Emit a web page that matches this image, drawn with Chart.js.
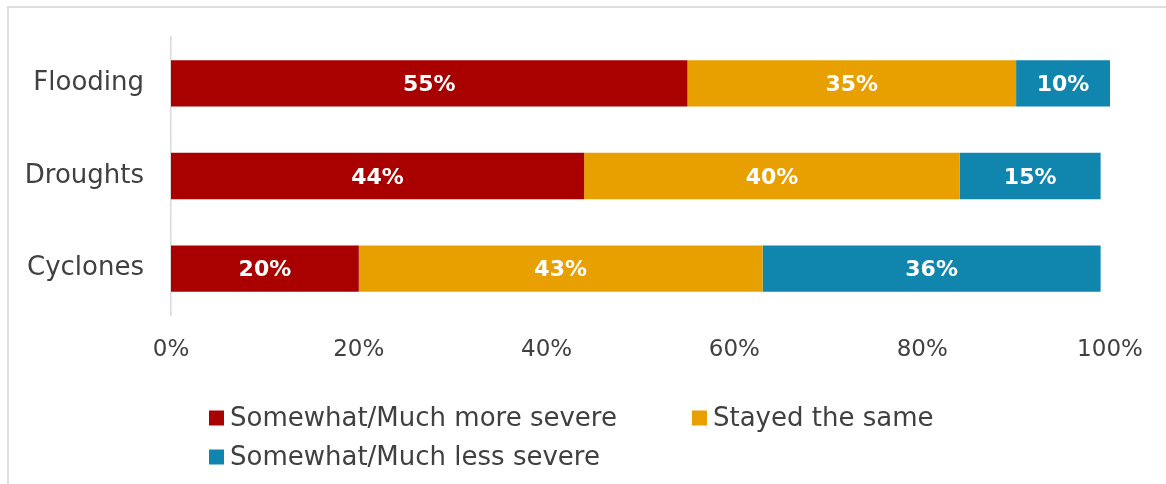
<!DOCTYPE html>
<html>
<head>
<meta charset="utf-8">
<script src="https://cdn.jsdelivr.net/npm/chart.js@4/dist/chart.umd.min.js"></script>
<style>
  html, body { margin: 0; padding: 0; background: #fff; }
  #wrap { position: relative; width: 1166px; height: 484px; overflow: hidden; }
  #frame { position: absolute; left: 7px; top: 6px; width: 1200px; height: 600px;
           border-top: 2px solid #dedede; border-left: 2px solid #dedede; }
  canvas { position: absolute; left: 0; top: 0; }
</style>
</head>
<body>
<div id="wrap">
  <div id="frame"></div>
  <canvas id="c" width="1166" height="484"></canvas>
</div>
<script>
// Perceived change in severity of natural hazards (share of respondents, %)
const categories = ['Flooding', 'Droughts', 'Cyclones'];
const moreSevere = [55, 44, 20];
const sameSeverity = [35, 40, 43];
const lessSevere = [10, 15, 36];
const seriesNames = ['Somewhat/Much more severe', 'Stayed the same', 'Somewhat/Much less severe'];
const seriesColors = ['#A90000', '#E89F00', '#1086AE'];
const xTickValues = [0, 20, 40, 60, 80, 100];

const FONT = '"DejaVu Sans", sans-serif';
const TEXT = '#404040';

// White value labels centred inside each bar segment
const segmentLabels = {
  id: 'segmentLabels',
  afterDatasetsDraw(chart) {
    const ctx = chart.ctx;
    ctx.save();
    ctx.font = 'bold 22px ' + FONT;
    ctx.fillStyle = '#ffffff';
    ctx.textAlign = 'center';
    ctx.textBaseline = 'middle';
    chart.data.datasets.forEach((ds, i) => {
      chart.getDatasetMeta(i).data.forEach((bar, j) => {
        const p = bar.getProps(['x', 'base', 'y'], true);
        ctx.fillText(ds.data[j] + '%', (p.x + p.base) / 2, p.y + 2);
      });
    });
    ctx.restore();
  }
};

// Legend rows under the plot, left-aligned, wrapping when a row gets too wide
const wrappedLegend = {
  id: 'wrappedLegend',
  afterDraw(chart, args, opts) {
    const ctx = chart.ctx;
    ctx.save();
    ctx.font = opts.fontSize + 'px ' + FONT;
    ctx.textBaseline = 'middle';
    let x = opts.left, y = opts.top;
    chart.data.datasets.forEach((ds) => {
      const w = opts.box + opts.boxGap + ctx.measureText(ds.label).width;
      if (x > opts.left && x + w - opts.left > opts.maxWidth) {
        x = opts.left;
        y += opts.rowHeight;
      }
      ctx.fillStyle = ds.backgroundColor;
      ctx.fillRect(x, y - opts.box / 2, opts.box, opts.box);
      ctx.fillStyle = TEXT;
      ctx.textAlign = 'left';
      ctx.fillText(ds.label, x + opts.box + opts.boxGap, y + 1);
      x += w + opts.itemGap;
    });
    ctx.restore();
  }
};

const seriesValues = [moreSevere, sameSeverity, lessSevere];

new Chart(document.getElementById('c'), {
  type: 'bar',
  data: {
    labels: categories,
    datasets: seriesValues.map((vals, i) => ({
      label: seriesNames[i],
      data: vals,
      backgroundColor: seriesColors[i],
      borderWidth: 0,
      barPercentage: 0.5,
      categoryPercentage: 1.0
    }))
  },
  options: {
    indexAxis: 'y',
    responsive: false,
    animation: false,
    layout: { padding: { left: 0, right: 56, top: 37, bottom: 109 } },
    plugins: {
      legend: { display: false },
      tooltip: { enabled: false },
      wrappedLegend: {
        left: 209, top: 418, rowHeight: 39, box: 15, boxGap: 6,
        itemGap: 75, maxWidth: 760, fontSize: 26
      }
    },
    scales: {
      x: {
        stacked: true,
        min: 0,
        max: 100,
        afterBuildTicks: (s) => { s.ticks = xTickValues.map(v => ({ value: v })); },
        afterFit: (s) => { s.height = 60; },
        grid: { display: false, drawTicks: false },
        border: { display: false },
        ticks: {
          padding: 21,
          color: TEXT,
          font: { family: FONT, size: 23 },
          maxRotation: 0,
          callback: (v) => v + '%'
        }
      },
      y: {
        stacked: true,
        afterFit: (s) => { s.width = 171; s.paddingTop = 0; s.paddingBottom = 0; },
        grid: { display: false, drawTicks: false },
        border: { display: true, color: '#d9d9d9', width: 1.5 },
        ticks: {
          padding: 27,
          color: TEXT,
          font: { family: FONT, size: 26 }
        }
      }
    }
  },
  plugins: [segmentLabels, wrappedLegend]
});
</script>
</body>
</html>
